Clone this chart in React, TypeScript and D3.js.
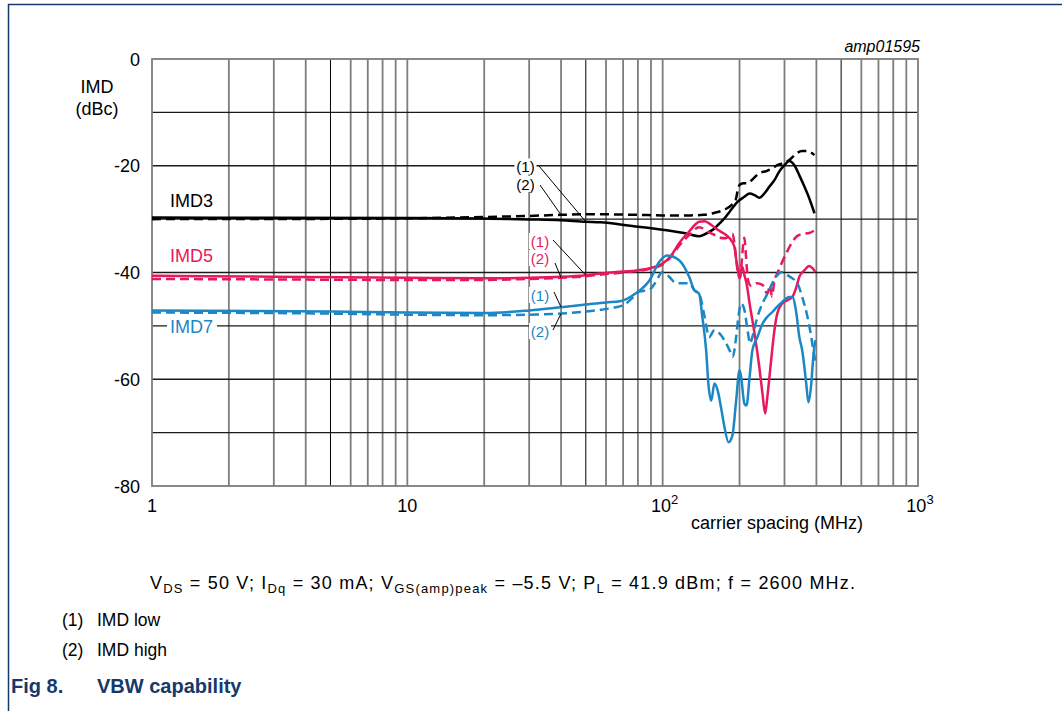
import React from 'react';
import * as d3 from 'd3';

type Pt = [number, number]; // [carrier spacing (MHz), IMD (dBc)]

// IMD3
const imd3Low: Pt[] = [
  [1, -29.7], [3, -29.75], [10, -29.8], [20, -29.9], [30, -30.05], [40, -30.2], [50, -30.5],
  [57, -30.6], [76, -31.3], [100, -32.0], [124, -32.7], [139, -33.2], [152, -32.4], [160, -31.7],
  [167, -30.8], [175, -29.8], [183, -28.6], [196, -26.8], [209, -25.8], [219, -25.2], [229, -25.5],
  [239, -26.0], [250, -25.2], [262, -23.9], [274, -22.7], [286, -21.1], [300, -19.9], [313, -19.1],
  [328, -19.9], [343, -21.8], [359, -23.9], [375, -26.1], [393, -28.9],
];
const imd3High: Pt[] = [
  [1, -30.0], [5, -29.95], [10, -29.85], [20, -29.6], [30, -29.4], [40, -29.2], [50, -29.1],
  [57, -29.1], [80, -29.2], [100, -29.3], [127, -29.3], [145, -29.2], [160, -28.8], [175, -28.2],
  [187, -27.3], [193, -26.5], [197, -24.5], [201, -23.5], [208, -23.3], [215, -23.3], [222, -22.8],
  [239, -21.4], [255, -21.0], [269, -20.5], [281, -19.9], [305, -19.3], [319, -18.6], [334, -17.7],
  [352, -17.25], [369, -17.25], [386, -17.7], [393, -18.0],
];

// IMD5
const imd5Low: Pt[] = [
  [1, -40.6], [3, -40.8], [10, -41.0], [20, -41.1], [30, -41.0], [40, -40.8], [50, -40.5],
  [57, -40.2], [66, -39.9], [76, -39.7], [89, -39.2], [100, -38.3], [108, -36.8], [116, -34.5],
  [127, -32.3], [139, -30.5], [146, -30.4], [152, -30.8], [160, -31.6], [167, -32.2], [175, -32.8],
  [183, -33.6], [191, -35.2], [194, -37.5], [197, -39.5], [200, -41.1], [203, -39.5], [205, -38.9],
  [209, -40.5], [213, -42.0], [219, -45.8], [229, -51.4], [239, -57.7], [246, -62.7], [252, -66.4],
  [257, -63.3], [266, -56.4], [274, -50.8], [281, -47.7], [294, -45.8], [308, -45.2], [322, -44.6],
  [334, -42.7], [343, -40.8], [359, -39.6], [375, -38.8], [386, -39.2], [396, -39.9],
];
const imd5High: Pt[] = [
  [1, -41.2], [3, -41.3], [10, -41.4], [20, -41.4], [30, -41.2], [40, -41.0], [50, -40.7],
  [57, -40.4], [70, -40.0], [89, -39.3], [100, -38.5], [108, -37.0], [116, -35.0], [127, -33.0],
  [139, -31.5], [152, -32.5], [160, -33.0], [167, -33.5], [177, -33.6], [183, -33.0], [188, -32.8],
  [191, -34.5], [194, -37.5], [198, -40.5], [201, -41.0], [204, -38.0], [207, -34.5], [209, -33.5],
  [212, -37.0], [216, -41.5], [222, -42.5], [233, -42.0], [246, -42.3], [257, -44.0], [263, -42.5],
  [268, -44.5], [274, -41.5], [281, -40.2], [292, -38.3], [305, -36.4], [319, -34.6], [334, -33.3],
  [352, -32.8], [375, -32.6], [393, -32.1],
];

// IMD7
const imd7Low: Pt[] = [
  [1, -47.1], [5, -47.3], [10, -47.5], [20, -47.6], [30, -47.1], [40, -46.5], [50, -46.0],
  [60, -45.6], [68, -45.4], [78, -44.0], [89, -41.4], [97, -38.0], [104, -36.8], [116, -37.7],
  [127, -40.8], [133, -43.3], [139, -44.0], [143, -48.3], [148, -54.6], [151, -60.8], [155, -64.0],
  [159.5, -60.8], [164, -62.0], [170, -65.8], [174.5, -68.9], [181, -71.8], [187.6, -70.5],
  [194, -64.0], [200, -58.3], [203, -59.6], [209, -64.6], [213, -64.9], [219, -59.6], [224.5, -54.6],
  [235, -52.1], [246, -49.6], [257, -48.3], [269, -47.4], [281, -46.4], [294, -45.5], [313, -44.6],
  [322, -44.6], [334, -47.7], [343, -52.1], [352, -54.6], [365, -60.8], [372, -64.3], [382, -60.8],
  [389, -55.8], [396, -52.7],
];
const imd7High: Pt[] = [
  [1, -47.5], [5, -47.7], [10, -47.9], [20, -48.0], [30, -47.9], [40, -47.7], [50, -47.3],
  [57, -47.0], [64, -46.6], [71, -46.0], [76, -44.8], [81, -43.6], [89, -43.2], [93, -42.1],
  [100, -39.9], [106, -40.8], [113, -42.0], [127, -42.0], [133, -43.3], [139, -44.0], [146, -48.3],
  [152, -52.1], [159.5, -50.8], [167, -51.4], [174.5, -52.7], [183, -54.6], [188, -55.8],
  [194, -52.1], [198, -48.3], [203, -45.8], [209, -47.0], [215, -50.8], [220, -53.3], [224.5, -52.1],
  [235, -48.3], [246, -45.8], [257, -44.0], [269, -42.0], [281, -40.5], [294, -39.9], [308, -40.5],
  [322, -41.1], [337, -42.0], [352, -44.6], [369, -48.3], [382, -52.1], [389, -54.6], [396, -56.5],
];

const yTickLabels = [0, -20, -40, -60, -80];
const yGridValues = d3.range(-80, 1, 10);
const xDecades = [1, 10, 100];
const xTickLabels: { value: number; base: string; exp?: string }[] = [
  { value: 1, base: '1' },
  { value: 10, base: '10' },
  { value: 100, base: '10', exp: '2' },
  { value: 1000, base: '10', exp: '3' },
];

const BLACK = '#000000';
const RED = '#e8185c';
const BLUE = '#1b87c6';
const NAVY = '#16396b';
const FONT = '"Liberation Sans", Arial, Helvetica, sans-serif';

const x = d3.scaleLog().domain([1, 1000]).range([152, 918]);
const y = d3.scaleLinear().domain([-80, 0]).range([486, 59]);

const line = d3
  .line<Pt>()
  .x((d) => x(d[0]))
  .y((d) => y(d[1]))
  .curve(d3.curveMonotoneX);

function valueAt(series: Pt[], f: number): number {
  const lf = Math.log10(f);
  for (let i = 0; i < series.length - 1; i++) {
    const a = series[i];
    const b = series[i + 1];
    if (f >= a[0] && f <= b[0]) {
      const t = (lf - Math.log10(a[0])) / (Math.log10(b[0]) - Math.log10(a[0]));
      return a[1] + t * (b[1] - a[1]);
    }
  }
  return series[series.length - 1][1];
}

const curves = [
  { data: imd3Low, color: BLACK, dash: undefined },
  { data: imd3High, color: BLACK, dash: '9 5' },
  { data: imd5Low, color: RED, dash: undefined },
  { data: imd5High, color: RED, dash: '9 5' },
  { data: imd7Low, color: BLUE, dash: undefined },
  { data: imd7High, color: BLUE, dash: '9 5' },
];

const seriesLabels = [
  { text: 'IMD3', color: BLACK, lx: 170, ly: 206.5, bg: false },
  { text: 'IMD5', color: RED, lx: 170, ly: 262, bg: false },
  { text: 'IMD7', color: BLUE, lx: 170, ly: 333, bg: true },
];

// callouts: label centre, leader start, target point on a curve
const callouts = [
  { text: '(1)', color: BLACK, cx: 525.5, cy: 166.5, sx: 539, sy: 166, f: 50, series: imd3Low },
  { text: '(2)', color: BLACK, cx: 525.5, cy: 184, sx: 540, sy: 185, f: 40, series: imd3High },
  { text: '(1)', color: RED, cx: 540, cy: 241, sx: 553, sy: 240, f: 50, series: imd5Low },
  { text: '(2)', color: RED, cx: 540, cy: 258, sx: 555, sy: 263, f: 40, series: imd5High },
  { text: '(1)', color: BLUE, cx: 540, cy: 295, sx: 554, sy: 292, f: 40, series: imd7Low },
  { text: '(2)', color: BLUE, cx: 540, cy: 331, sx: 553, sy: 330, f: 40, series: imd7High },
];

export default function App() {
  const minor: { f: number; strong: boolean }[] = [];
  xDecades.forEach((d) => {
    for (let k = 2; k <= 9; k++) minor.push({ f: k * d, strong: k === 5 });
  });

  return (
    <svg
      width={1062}
      height={711}
      style={{ position: 'absolute', left: 0, top: 0, background: '#fff' }}
      fontFamily={FONT}
    >
      {/* page frame */}
      <line x1={8} x2={1062} y1={4.5} y2={4.5} stroke={NAVY} strokeWidth={1.5} />
      <line x1={8.5} x2={8.5} y1={4} y2={711} stroke={NAVY} strokeWidth={1.5} />

      {/* grid */}
      {minor.map((m) => (
        <line
          key={'v' + m.f}
          x1={x(m.f)}
          x2={x(m.f)}
          y1={y(0)}
          y2={y(-80)}
          stroke={m.strong ? '#000' : '#7d7d7d'}
          strokeWidth={m.strong ? 1 : 1.8}
        />
      ))}
      {[10, 100].map((f) => (
        <line key={'d' + f} x1={x(f)} x2={x(f)} y1={y(0)} y2={y(-80)} stroke="#7d7d7d" strokeWidth={1.8} />
      ))}
      {yGridValues
        .filter((v) => v > -80 && v < 0)
        .map((v) => (
          <line key={'h' + v} x1={x(1)} x2={x(1000)} y1={y(v)} y2={y(v)} stroke="#1a1a1a" strokeWidth={1.3} />
        ))}
      <rect
        x={x(1)}
        y={y(0)}
        width={x(1000) - x(1)}
        height={y(-80) - y(0)}
        fill="none"
        stroke="#7d7d7d"
        strokeWidth={1.8}
      />

      {/* axis labels */}
      {yTickLabels.map((v) => (
        <text key={'yt' + v} x={140} y={y(v) + 6.5} textAnchor="end" fontSize={18} fill="#000">
          {v}
        </text>
      ))}
      {xTickLabels.map((t) => (
        <text key={'xt' + t.value} x={x(t.value) + (t.exp ? 2 : 0)} y={512} textAnchor="middle" fontSize={18} fill="#000">
          {t.base}
          {t.exp && (
            <tspan fontSize={13} dy={-8}>
              {t.exp}
            </tspan>
          )}
        </text>
      ))}
      <text x={97} y={93} textAnchor="middle" fontSize={18}>
        IMD
      </text>
      <text x={97} y={115} textAnchor="middle" fontSize={18}>
        (dBc)
      </text>
      <text x={777} y={529} textAnchor="middle" fontSize={18}>
        carrier spacing (MHz)
      </text>
      <text x={920} y={52} textAnchor="end" fontSize={16} fontStyle="italic">
        amp01595
      </text>

      {/* curves */}
      {curves.map((c, i) => (
        <path
          key={'c' + i}
          d={line(c.data) || ''}
          fill="none"
          stroke={c.color}
          strokeWidth={2.5}
          strokeDasharray={c.dash}
          strokeLinejoin="round"
        />
      ))}

      {/* series labels */}
      {seriesLabels.map((s) => (
        <g key={s.text}>
          {s.bg && <rect x={s.lx - 3} y={s.ly - 15} width={50} height={18} fill="#fff" />}
          <text x={s.lx} y={s.ly} fontSize={18} fill={s.color}>
            {s.text}
          </text>
        </g>
      ))}

      {/* callouts */}
      {callouts.map((c, i) => {
        const tx = x(c.f);
        const ty = y(valueAt(c.series, c.f));
        return (
          <g key={'co' + i}>
            <line x1={c.sx} y1={c.sy} x2={tx} y2={ty} stroke="#000" strokeWidth={1} />
            <rect x={c.cx - 11} y={c.cy - 8} width={22} height={16} fill="#fff" />
            <text x={c.cx} y={c.cy + 5.5} textAnchor="middle" fontSize={15} fill={c.color}>
              {c.text}
            </text>
          </g>
        );
      })}

      {/* caption */}
      <text x={150} y={589} fontSize={18} textLength={705} lengthAdjust="spacing">
        V<tspan fontSize={13} dy={4}>DS</tspan>
        <tspan dy={-4}> = 50 V; I</tspan>
        <tspan fontSize={13} dy={4}>Dq</tspan>
        <tspan dy={-4}> = 30 mA; V</tspan>
        <tspan fontSize={13} dy={4}>GS(amp)peak</tspan>
        <tspan dy={-4}> = –5.5 V; P</tspan>
        <tspan fontSize={13} dy={4}>L</tspan>
        <tspan dy={-4}> = 41.9 dBm; f = 2600 MHz.</tspan>
      </text>
      <text x={62} y={626} fontSize={17.5}>(1)</text>
      <text x={97} y={626} fontSize={17.5}>IMD low</text>
      <text x={62} y={656} fontSize={17.5}>(2)</text>
      <text x={97} y={656} fontSize={17.5}>IMD high</text>
      <text x={11} y={693} fontSize={20} fontWeight="bold" fill={NAVY}>Fig 8.</text>
      <text x={97} y={693} fontSize={20} fontWeight="bold" fill={NAVY}>VBW capability</text>
    </svg>
  );
}
